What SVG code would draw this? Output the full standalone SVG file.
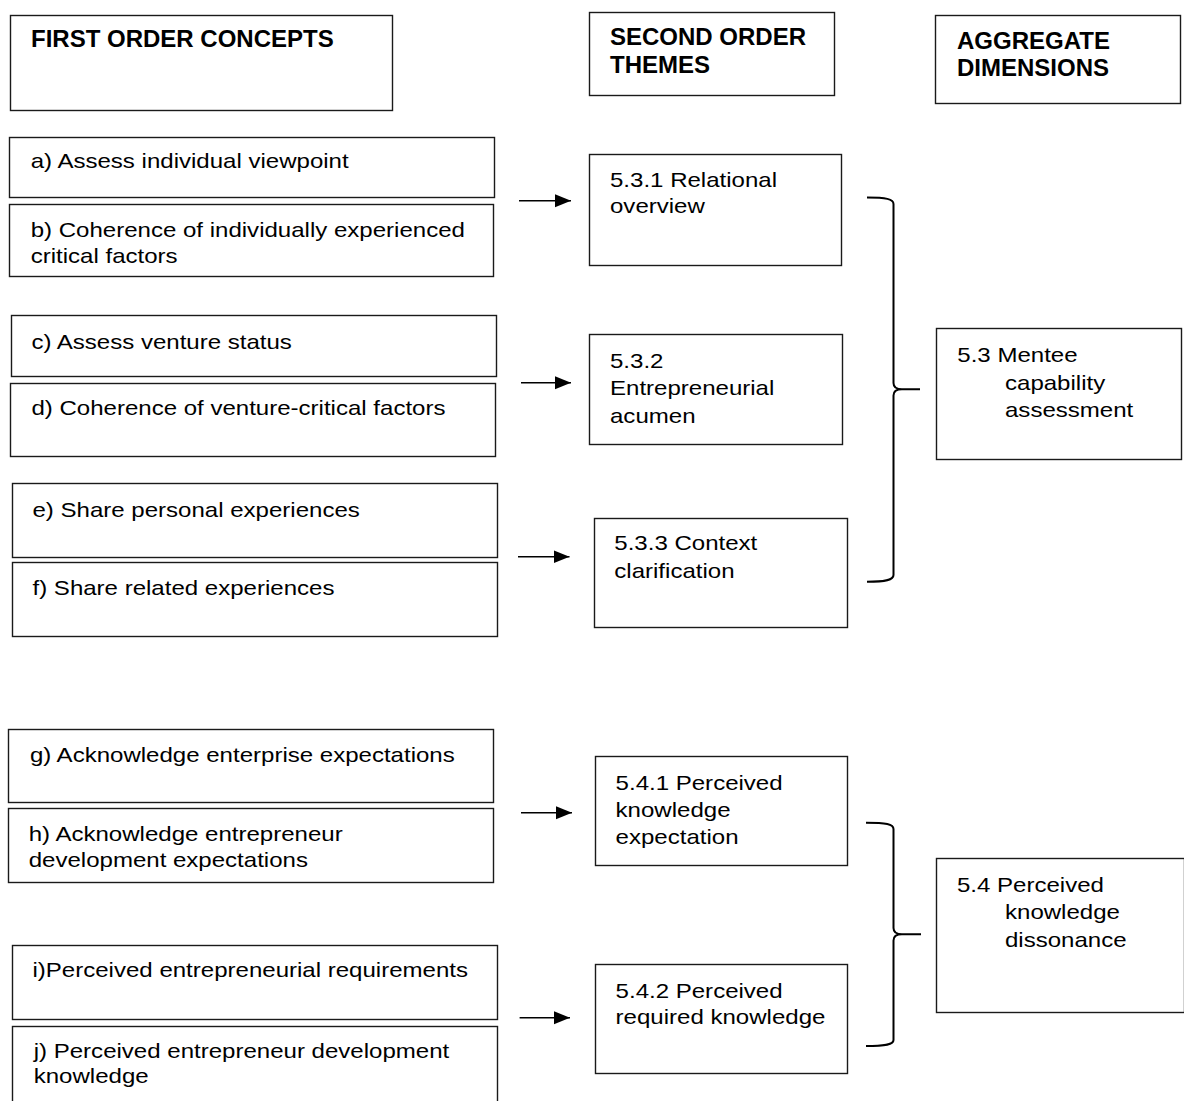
<svg xmlns="http://www.w3.org/2000/svg" width="1184" height="1101" viewBox="0 0 1184 1101">
<style>
.box{fill:#fff;stroke:#1a1a1a;stroke-width:1.4}
.h{font-family:"Liberation Sans",Arial,sans-serif;font-weight:bold;font-size:24px;fill:#000}
.t{font-family:"Liberation Sans",Arial,sans-serif;font-size:21px;fill:#000}
.arr{stroke:#000;stroke-width:1.4;fill:none;marker-end:url(#ah)}
.br{stroke:#000;stroke-width:2;fill:none}
</style>
<defs>
<marker id="ah" markerWidth="16" markerHeight="14" refX="16" refY="7" orient="auto" markerUnits="userSpaceOnUse">
<path d="M0,0.5 L16,7 L0,13.5 Z" fill="#000"/>
</marker>
</defs>
<rect width="1184" height="1101" fill="#fff"/>

<g id="hdr-first">
<rect class="box" x="10.5" y="15.5" width="382" height="95"/>
<text class="h" x="31" y="46.7">FIRST ORDER CONCEPTS</text>
</g>
<g id="hdr-second">
<rect class="box" x="589.5" y="12.5" width="245" height="83"/>
<text class="h" x="610" y="45">SECOND ORDER<tspan x="610" y="72.5">THEMES</tspan></text>
</g>
<g id="hdr-aggregate">
<rect class="box" x="935.5" y="15.5" width="245" height="88"/>
<text class="h" x="957" y="48.7">AGGREGATE<tspan x="957" y="75.7">DIMENSIONS</tspan></text>
</g>

<g id="node-a">
<rect class="box" x="9.5" y="137.5" width="485" height="60"/>
<text class="t" transform="translate(30.7,168.3) scale(1.145,1)">a) Assess individual viewpoint</text>
</g>
<g id="node-b">
<rect class="box" x="9.5" y="204.5" width="484" height="72"/>
<text class="t" transform="translate(30.7,236.7) scale(1.145,1)">b) Coherence of individually experienced<tspan x="0" y="26.6">critical factors</tspan></text>
</g>
<g id="node-c">
<rect class="box" x="11.5" y="315.5" width="485" height="61"/>
<text class="t" transform="translate(31.4,349) scale(1.145,1)">c) Assess venture status</text>
</g>
<g id="node-d">
<rect class="box" x="10.5" y="383.5" width="485" height="73"/>
<text class="t" transform="translate(31.4,415) scale(1.145,1)">d) Coherence of venture-critical factors</text>
</g>
<g id="node-e">
<rect class="box" x="12.5" y="483.5" width="485" height="74"/>
<text class="t" transform="translate(32.5,516.7) scale(1.145,1)">e) Share personal experiences</text>
</g>
<g id="node-f">
<rect class="box" x="12.5" y="562.5" width="485" height="74"/>
<text class="t" transform="translate(32.5,595) scale(1.145,1)">f) Share related experiences</text>
</g>
<g id="node-g">
<rect class="box" x="8.5" y="729.5" width="485" height="73"/>
<text class="t" transform="translate(29.9,761.7) scale(1.145,1)">g) Acknowledge enterprise expectations</text>
</g>
<g id="node-h">
<rect class="box" x="8.5" y="808.5" width="485" height="74"/>
<text class="t" transform="translate(28.7,840.7) scale(1.145,1)">h) Acknowledge entrepreneur<tspan x="0" y="26">development expectations</tspan></text>
</g>
<g id="node-i">
<rect class="box" x="12.5" y="945.5" width="485" height="74"/>
<text class="t" transform="translate(32.5,977.3) scale(1.145,1)">i)Perceived entrepreneurial requirements</text>
</g>
<g id="node-j">
<rect class="box" x="12.5" y="1026.5" width="485" height="80"/>
<text class="t" transform="translate(33.7,1058.3) scale(1.145,1)">j) Perceived entrepreneur development<tspan x="0" y="25">knowledge</tspan></text>
</g>

<g id="node-531">
<rect class="box" x="589.5" y="154.5" width="252" height="111"/>
<text class="t" transform="translate(610,187) scale(1.145,1)">5.3.1 Relational<tspan x="0" y="26.5">overview</tspan></text>
</g>
<g id="node-532">
<rect class="box" x="589.5" y="334.5" width="253" height="110"/>
<text class="t" transform="translate(610,367.7) scale(1.145,1)">5.3.2<tspan x="0" y="27.4">Entrepreneurial</tspan><tspan x="0" y="55">acumen</tspan></text>
</g>
<g id="node-533">
<rect class="box" x="594.5" y="518.5" width="253" height="109"/>
<text class="t" transform="translate(614.3,550) scale(1.145,1)">5.3.3 Context<tspan x="0" y="27.7">clarification</tspan></text>
</g>
<g id="node-541">
<rect class="box" x="595.5" y="756.5" width="252" height="109"/>
<text class="t" transform="translate(615.6,790) scale(1.145,1)">5.4.1 Perceived<tspan x="0" y="26.7">knowledge</tspan><tspan x="0" y="54.3">expectation</tspan></text>
</g>
<g id="node-542">
<rect class="box" x="595.5" y="964.5" width="252" height="109"/>
<text class="t" transform="translate(615.6,997.7) scale(1.145,1)">5.4.2 Perceived<tspan x="0" y="26.6">required knowledge</tspan></text>
</g>

<g id="node-53">
<rect class="box" x="936.5" y="328.5" width="245" height="131"/>
<text class="t" transform="translate(957.3,361.7) scale(1.145,1)">5.3 Mentee</text>
<text class="t" transform="translate(1005,389.5) scale(1.145,1)">capability<tspan x="0" y="27.2">assessment</tspan></text>
</g>
<g id="node-54">
<rect class="box" x="936.5" y="858.5" width="248" height="154"/>
<text class="t" transform="translate(957,891.7) scale(1.145,1)">5.4 Perceived</text>
<text class="t" transform="translate(1005,919) scale(1.145,1)">knowledge<tspan x="0" y="27.7">dissonance</tspan></text>
</g>

<g id="connectors">
<line class="arr" x1="519" y1="200.7" x2="571" y2="200.7"/>
<line class="arr" x1="521" y1="382.7" x2="571" y2="382.7"/>
<line class="arr" x1="518" y1="556.7" x2="569.5" y2="556.7"/>
<line class="arr" x1="521" y1="812.7" x2="572" y2="812.7"/>
<line class="arr" x1="519.6" y1="1017.7" x2="570" y2="1017.7"/>
<path class="br" d="M867,197.5 C886,197.5 893.5,199 893.5,204 L893.5,383 C893.5,387 896,389.3 902,389.3 L920,389.3 M902,389.3 C896,389.3 893.5,391.5 893.5,395.5 L893.5,575 C893.5,580 886,581.7 867,581.7"/>
<path class="br" d="M866,822.7 C886,822.7 893.5,824 893.5,829 L893.5,928 C893.5,932 896,934.3 902,934.3 L921,934.3 M902,934.3 C896,934.3 893.5,936.5 893.5,940.5 L893.5,1040 C893.5,1044.5 886,1046 866,1046"/>
</g>
</svg>
